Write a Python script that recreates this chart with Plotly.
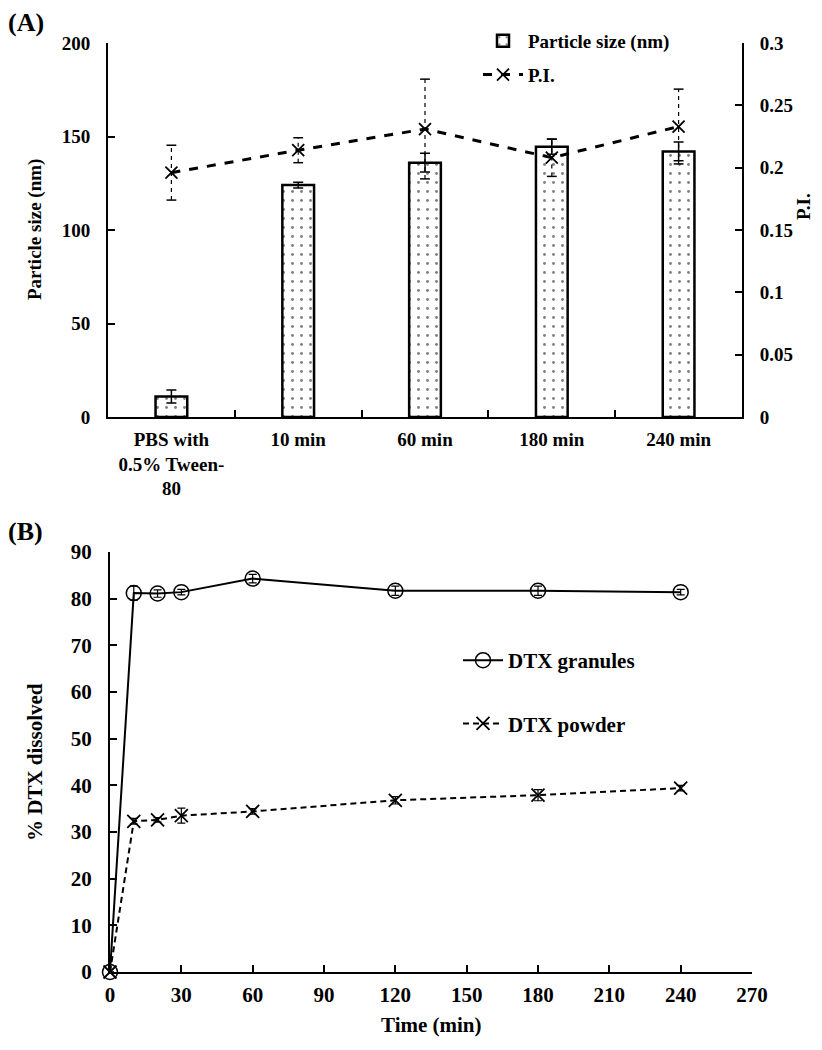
import plotly.graph_objects as go

# ---- Panel A data ----
categories = ["PBS with<br>0.5% Tween-<br>80", "10 min", "60 min", "180 min", "240 min"]
particle_size = [11, 124, 136, 144.5, 142]
particle_err = [3.5, 1.5, 5, 4, 5]
pi_values = [0.196, 0.214, 0.231, 0.208, 0.233]
pi_err = [0.022, 0.010, 0.040, 0.015, 0.030]

# ---- Panel B data ----
time_min = [0, 10, 20, 30, 60, 120, 180, 240]
granules = [0, 81.2, 81.1, 81.4, 84.3, 81.7, 81.7, 81.4]
granules_err = [0, 1.5, 0.8, 0.6, 0.9, 1.0, 1.0, 0.6]
powder = [0, 32.3, 32.6, 33.5, 34.4, 36.8, 37.9, 39.4]
powder_err = [0, 0.6, 0.5, 1.6, 0.6, 0.8, 1.2, 0.6]

FONT = "Liberation Serif"
OFF = 8  # page body margin
W, H = 822 - 2 * OFF, 1050 - 2 * OFF


def px(x):
    return (x - OFF) / W


def py(y):
    return 1 - (y - OFF) / H


fig = go.Figure()

# Bars
fig.add_trace(go.Bar(
    x=categories, y=particle_size, width=0.25,
    name="Particle size (nm)",
    marker=dict(color="white", line=dict(color="black", width=2.5),
                pattern=dict(shape=".", fgcolor="black", bgcolor="white", size=9, solidity=0.08)),
    error_y=dict(type="data", array=particle_err, color="black", thickness=1.5, width=5),
    xaxis="x", yaxis="y", legend="legend", legendgroup="bar",
))

# P.I. line
fig.add_trace(go.Scatter(
    x=categories, y=pi_values, mode="lines+markers", name="P.I.",
    line=dict(color="black", width=3, dash="dash"),
    marker=dict(symbol="x-thin", size=12, line=dict(color="black", width=1.8)),
    xaxis="x", yaxis="y2", legend="legend", legendgroup="pi", cliponaxis=False,
))
# P.I. dashed error bars
for c, v, e in zip(categories, pi_values, pi_err):
    fig.add_trace(go.Scatter(
        x=[c, c], y=[v - e, v + e], mode="lines+markers",
        line=dict(color="black", width=1.2, dash="4px,4px"),
        marker=dict(symbol="line-ew", size=7, line=dict(color="black", width=1.5)),
        showlegend=False, xaxis="x", yaxis="y2", hoverinfo="skip",
    ))

# Panel B
fig.add_trace(go.Scatter(
    x=time_min, y=granules, mode="lines+markers", name="DTX granules",
    line=dict(color="black", width=2),
    marker=dict(symbol="circle-open", size=15, color="black", line=dict(width=1.5)),
    error_y=dict(type="data", array=granules_err, color="black", thickness=1.2, width=4),
    xaxis="x2", yaxis="y3", legend="legend2", legendgroup="g", cliponaxis=False,
))
fig.add_trace(go.Scatter(
    x=time_min, y=powder, mode="lines+markers", name="DTX powder",
    line=dict(color="black", width=2, dash="6px,4px"),
    marker=dict(symbol="x-thin", size=13, color="black", line=dict(width=1.8, color="black")),
    error_y=dict(type="data", array=powder_err, color="black", thickness=1.2, width=4),
    xaxis="x2", yaxis="y3", legend="legend2", legendgroup="p", cliponaxis=False,
))

tickfont = dict(family=FONT, size=19, color="black", weight="bold")
tickfontB = dict(family=FONT, size=21, color="black", weight="bold")
axis_common = dict(showgrid=False, zeroline=False, showline=True, linecolor="black",
                   linewidth=2, ticks="inside", tickcolor="black", ticklen=7, tickwidth=2,
                   automargin=False)

yA = [py(417), py(43)]
yB = [py(972), py(552)]


def ann(text, x, y, size, angle=0):
    return dict(text=text, x=x, y=y, xref="paper", yref="paper",
                xanchor="center", yanchor="middle", textangle=angle, showarrow=False,
                font=dict(family=FONT, size=size, color="black", weight="bold"))


fig.update_layout(
    width=W, height=H, margin=dict(l=0, r=0, t=0, b=0),
    paper_bgcolor="white", plot_bgcolor="white",
    font=dict(family=FONT, color="black", size=19, weight="bold"),
    xaxis=dict(domain=[px(108), px(742)], anchor="y", type="category",
               tickson="boundaries", tickfont=tickfont, ticklabelstandoff=4, **axis_common),
    yaxis=dict(domain=yA, anchor="x", range=[0, 200], dtick=50,
               tickfont=tickfont, ticklabelstandoff=12, **axis_common),
    yaxis2=dict(overlaying="y", side="right", anchor="x", range=[0, 0.3], dtick=0.05,
                tickfont=tickfont, ticklabelstandoff=12, **axis_common),
    xaxis2=dict(domain=[px(110), px(752)], anchor="y3", range=[0, 270], dtick=30,
                tickfont=tickfontB, ticklabelstandoff=3, **axis_common),
    yaxis3=dict(domain=yB, anchor="x2", range=[0, 90], dtick=10,
                tickfont=tickfontB, ticklabelstandoff=12, **axis_common),
    legend=dict(x=px(478), y=py(22), xanchor="left", yanchor="top",
                font=dict(family=FONT, size=19, color="black", weight="bold"),
                bgcolor="rgba(0,0,0,0)", itemwidth=40, tracegroupgap=6),
    legend2=dict(x=px(458), y=py(640), xanchor="left", yanchor="top",
                 font=dict(family=FONT, size=21, color="black", weight="bold"),
                 bgcolor="rgba(0,0,0,0)", itemwidth=40, tracegroupgap=33),
    annotations=[
        dict(text="(A)", x=px(6), y=py(6), xref="paper", yref="paper",
             xanchor="left", yanchor="top", showarrow=False,
             font=dict(family=FONT, size=26, color="black", weight="bold")),
        dict(text="(B)", x=px(6), y=py(515), xref="paper", yref="paper",
             xanchor="left", yanchor="top", showarrow=False,
             font=dict(family=FONT, size=26, color="black", weight="bold")),
        ann("Particle size (nm)", px(35), (yA[0] + yA[1]) / 2, 19, -90),
        ann("P.I.", px(803), py(207), 19, -90),
        ann("% DTX dissolved", px(35), (yB[0] + yB[1]) / 2, 21, -90),
        ann("Time (min)", px((110 + 752) / 2), py(1025), 21),
    ],
)

fig.write_html("out.html")
